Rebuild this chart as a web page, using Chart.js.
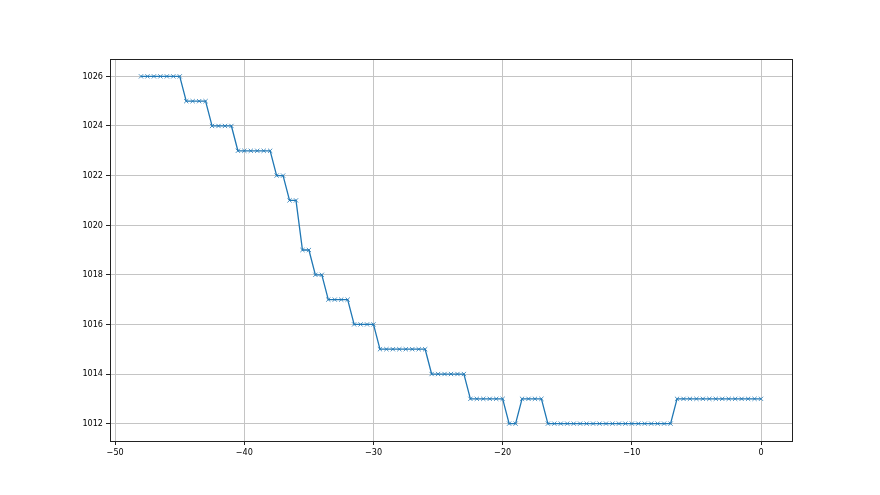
<!DOCTYPE html>
<html>
<head>
<meta charset="utf-8">
<script src="https://cdn.jsdelivr.net/npm/chart.js@4"></script>
<style>
html,body{margin:0;padding:0;background:#fff;}
#wrap{width:880px;height:495px;}
</style>
</head>
<body>
<div id="wrap"><canvas id="c" width="880" height="495"></canvas></div>
<script>
// Hours relative to now (step 0.5 h) and pressure values
const hours = [];
for (let i = 0; i <= 96; i++) hours.push(-48 + 0.5 * i);
const pressure = [
  1026,1026,1026,1026,1026,1026,1026,
  1025,1025,1025,1025,
  1024,1024,1024,1024,
  1023,1023,1023,1023,1023,1023,
  1022,1022,
  1021,1021,
  1019,1019,
  1018,1018,
  1017,1017,1017,1017,
  1016,1016,1016,1016,
  1015,1015,1015,1015,1015,1015,1015,1015,
  1014,1014,1014,1014,1014,1014,
  1013,1013,1013,1013,1013,1013,
  1012,1012,
  1013,1013,1013,1013,
  1012,1012,1012,1012,1012,1012,1012,1012,1012,1012,1012,1012,1012,1012,1012,1012,1012,1012,1012,1012,
  1013,1013,1013,1013,1013,1013,1013,1013,1013,1013,1013,1013,1013,1013
];
const xTicks = [-50, -40, -30, -20, -10, 0];
const yTicks = [1012, 1014, 1016, 1018, 1020, 1022, 1024, 1026];

const points = hours.map((h, i) => ({x: h, y: pressure[i]}));
const FONT = {family: "'DejaVu Sans Condensed', 'DejaVu Sans', sans-serif", size: 9};
const fmt = v => (v < 0 ? '\u2212' + Math.abs(v) : String(v));

const frame = {
  id: 'frame',
  afterDraw(chart) {
    const a = chart.chartArea, ctx = chart.ctx;
    ctx.save();
    ctx.strokeStyle = '#222';
    ctx.lineWidth = 1;
    ctx.strokeRect(Math.round(a.left) + 0.5, Math.round(a.top) + 0.5,
                   Math.round(a.right - a.left), Math.round(a.bottom - a.top));
    ctx.restore();
  }
};

new Chart(document.getElementById('c'), {
  type: 'scatter',
  data: {
    datasets: [{
      data: points,
      showLine: true,
      borderColor: '#1f77b4',
      backgroundColor: '#1f77b4',
      borderWidth: 1.3,
      pointStyle: 'crossRot',
      pointRadius: 3,
      pointBorderWidth: 1,
      pointBorderColor: 'rgba(31,119,180,0.8)',
      tension: 0
    }]
  },
  options: {
    responsive: false,
    animation: false,
    events: [],
    layout: {padding: {top: 59, right: 88, left: 0, bottom: 0}},
    plugins: {legend: {display: false}, tooltip: {enabled: false}},
    scales: {
      x: {
        type: 'linear',
        min: -50.4, max: 2.4,
        afterBuildTicks: s => { s.ticks = xTicks.map(v => ({value: v})); },
        afterFit: s => { s.height = 54; },
        border: {display: false},
        grid: {color: '#c4c4c4', lineWidth: 1, tickColor: '#222', tickLength: 4, drawOnChartArea: true},
        ticks: {color: '#000', font: FONT, padding: 2, maxRotation: 0, callback: v => fmt(v)}
      },
      y: {
        type: 'linear',
        min: 1011.3, max: 1026.7,
        afterBuildTicks: s => { s.ticks = yTicks.map(v => ({value: v})); },
        afterFit: s => { s.width = 110; },
        border: {display: false},
        grid: {color: '#c4c4c4', lineWidth: 1, tickColor: '#222', tickLength: 4},
        ticks: {color: '#000', font: FONT, padding: 3, callback: v => fmt(v)}
      }
    }
  },
  plugins: [frame]
});
</script>
</body>
</html>
